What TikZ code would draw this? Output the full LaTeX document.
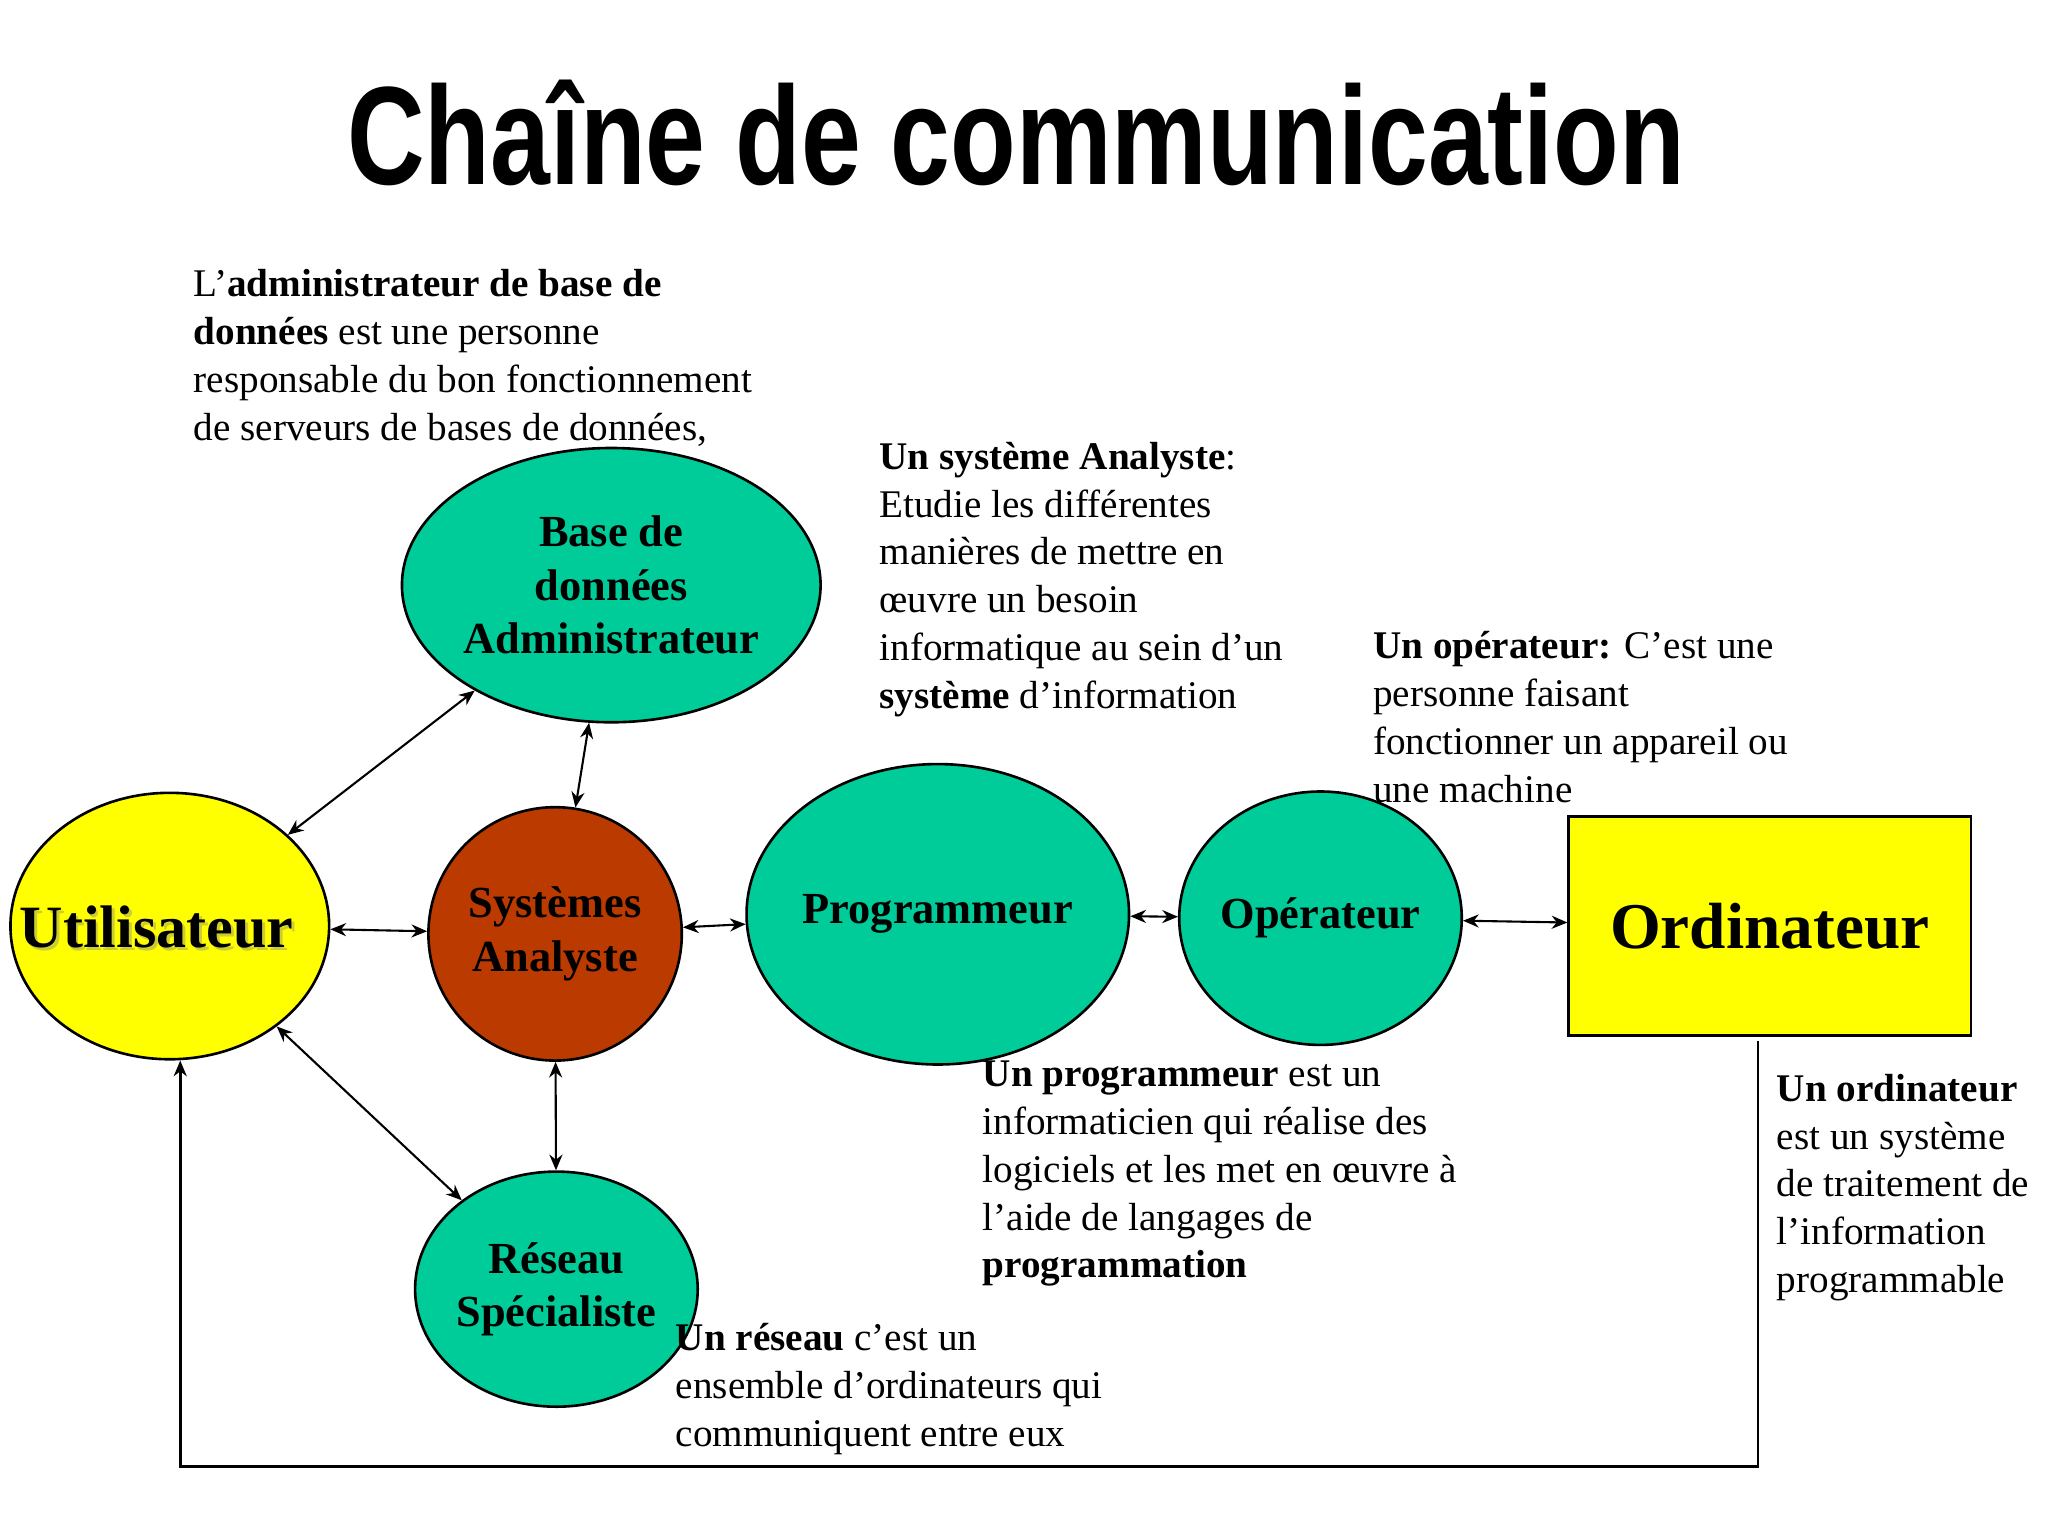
\documentclass[tikz,border=0pt]{standalone}
\usepackage{fontspec}
\setmainfont{Liberation Serif}
\newfontfamily\titlefont{Liberation Sans}
\usetikzlibrary{arrows.meta,shapes.geometric}
\definecolor{tealc}{HTML}{00CC99}
\definecolor{rustc}{HTML}{BB3A00}
\definecolor{yelc}{HTML}{FFFF00}
\tikzset{
  bub/.style={ellipse,draw=black,line width=1pt,inner sep=0pt,align=center,font=\fontsize{17}{20.5}\selectfont\bfseries},
  lnk/.style={{Stealth[length=6pt,width=5pt]}-{Stealth[length=6pt,width=5pt]},line width=0.8pt},
  desc/.style={anchor=north west,inner sep=0pt,align=left,font=\fontsize{15}{18.3}\selectfont}
}
\begin{document}
\begin{tikzpicture}[x=0.5pt,y=-0.5pt]
\useasboundingbox (0,0) rectangle (1568,1176);
\node[inner sep=0pt] (title) at (778,102) {\resizebox{512pt}{40pt}{\titlefont\bfseries Chaîne de communication}};
\node[bub,fill=yelc,minimum width=122pt,minimum height=102pt] (u) at (130,709) {};
\node[font=\fontsize{23}{26}\selectfont\bfseries,text=yelc!60!gray] at (122,712) {Utilisateur};
\node[font=\fontsize{23}{26}\selectfont\bfseries] at (120,710) {Utilisateur};
\node[bub,fill=tealc,minimum width=142pt,minimum height=105pt] (b) at (468,448) {Base de\\données\\Administrateur};
\node[bub,fill=rustc,minimum width=97pt,minimum height=97pt] (s) at (425,715) {Systèmes\\Analyste};
\node[bub,fill=tealc,minimum width=97pt,minimum height=90pt] (r) at (426,987) {Réseau\\Spécialiste};
\node[bub,fill=tealc,minimum width=116pt,minimum height=115pt] (p) at (718,700) {Programmeur};
\node[bub,fill=tealc,minimum width=97pt,minimum height=97pt] (o) at (1011,703) {Opérateur};
\node[draw=black,line width=1pt,fill=yelc,minimum width=154pt,minimum height=84pt,inner sep=0pt,font=\fontsize{25}{28}\selectfont\bfseries] (c) at (1355,709) {Ordinateur};
\draw[lnk] (u) -- (b);
\draw[lnk] (u) -- (s);
\draw[lnk] (u) -- (r);
\draw[lnk] (b) -- (s);
\draw[lnk] (s) -- (r);
\draw[lnk] (s) -- (p);
\draw[lnk] (p) -- (o);
\draw[lnk] (o) -- (c);
\coordinate (f1) at (1346,797);
\coordinate (f2) at (1346,1123);
\coordinate (f3) at (138,1123);
\draw[line width=1pt,-{Stealth[length=6pt,width=5pt]}] (f1) -- (f2) -- (f3) -- (u.south -| f3);
\node[desc] (t1) at (148,206) {L'\textbf{administrateur de base de}\\\textbf{données} est une personne\\responsable du bon fonctionnement\\de serveurs de bases de données,};
\node[desc] (t2) at (673,338) {\textbf{Un système Analyste}:\\Etudie les différentes\\manières de mettre en\\œuvre un besoin\\informatique au sein d'un\\\textbf{système} d'information};
\node[desc] (t3) at (1051,483) {\textbf{Un opérateur:} C’est une\\personne faisant\\fonctionner un appareil ou\\une machine};
\node[desc] (t4) at (752,812) {\textbf{Un programmeur} est un\\informaticien qui réalise des\\logiciels et les met en œuvre à\\l'aide de langages de\\\textbf{programmation}};
\node[desc] (t5) at (1360,822) {\textbf{Un ordinateur}\\est un système\\de traitement de\\l'information\\programmable};
\node[desc] (t6) at (517,1013) {\textbf{Un réseau} c'est un\\ensemble d'ordinateurs qui\\communiquent entre eux};
\end{tikzpicture}
\end{document}
